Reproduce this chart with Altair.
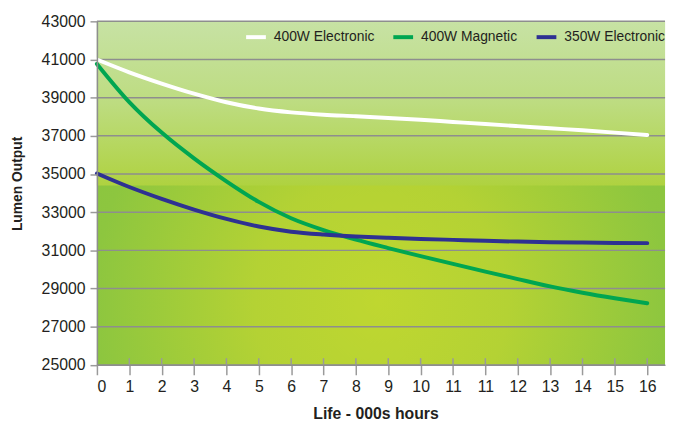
import altair as alt
import pandas as pd

# ---- data ----
x_index = list(range(18))
x_labels = ["0", "1", "2", "3", "4", "5", "6", "7", "8", "9", "10",
            "11", "11", "12", "13", "14", "15", "16"]
series_names = ["400W Electronic", "400W Magnetic", "350W Electronic"]
electronic_400 = [41000, 40330, 39740, 39210, 38760, 38430, 38230, 38110, 38030,
                  37940, 37840, 37730, 37620, 37510, 37400, 37290, 37170, 37040]
magnetic_400 = [40770, 38770, 37170, 35820, 34620, 33540, 32680, 32060, 31560,
                31120, 30700, 30290, 29890, 29495, 29110, 28780, 28490, 28230]
electronic_350 = [35030, 34320, 33700, 33140, 32650, 32250, 31980, 31830, 31730,
                  31660, 31600, 31550, 31500, 31460, 31430, 31410, 31390, 31380]
y_ticks = [25000, 27000, 29000, 31000, 33000, 35000, 37000, 39000, 41000, 43000]
series_colors = ["#ffffff", "#00a651", "#2e3192"]

rows = []
for name, vals in zip(series_names, [electronic_400, magnetic_400, electronic_350]):
    for i, v in zip(x_index, vals):
        rows.append({"x": i, "series": name, "value": v})
df = pd.DataFrame(rows)

x_max = 17.55
y_min, y_max = 25000, 43000
band_split = 34400

xscale = alt.Scale(domain=[0, x_max], nice=False, zero=False)
yscale = alt.Scale(domain=[y_min, y_max], nice=False, zero=False)

bg_all = pd.DataFrame({"x": [0], "x2": [x_max], "value": [y_min], "y2": [y_max]})
bg_top = pd.DataFrame({"x": [0], "x2": [x_max], "value": [band_split], "y2": [y_max]})
grid_df = pd.DataFrame({"value": y_ticks})
tick_df = pd.DataFrame({"x": x_index[1:], "value": [y_min] * 17, "y2": [25350] * 17})

label_expr = "[" + ",".join("'%s'" % s for s in x_labels) + "][datum.value]"

x_axis = alt.Axis(values=x_index, labelExpr=label_expr, title="Life - 000s hours",
                  tickSize=10, tickColor="#9a9a9a", tickWidth=1.5,
                  labelPadding=4, labelFontSize=16,
                  domain=True, domainColor="#8e8e8e", domainWidth=1.5,
                  grid=False, titleX=282, titleY=54, titleBaseline="alphabetic",
                  titleAlign="center", titleFontSize=16, zindex=1)
y_axis = alt.Axis(values=y_ticks, format="d", title="Lumen Output",
                  tickSize=7, tickColor="#9a9a9a", tickWidth=1.5,
                  labelPadding=5, labelFontSize=16,
                  domain=True, domainColor="#8e8e8e", domainWidth=1.5,
                  grid=False, titleX=-80, titleY=164, titleAlign="center",
                  titleBaseline="middle", titleAngle=270, titleFontSize=14, zindex=1)

radial = {
    "gradient": "radial",
    "x1": 0.5, "y1": 0.69, "r1": 0,
    "x2": 0.5, "y2": 0.69, "r2": 0.56,
    "stops": [
        {"offset": 0, "color": "#bfd730"},
        {"offset": 0.4, "color": "#b4d234"},
        {"offset": 0.9, "color": "#8dc63f"},
        {"offset": 1, "color": "#8bc53f"},
    ],
}
linear = {
    "gradient": "linear",
    "x1": 0, "y1": 0, "x2": 0, "y2": 1,
    "stops": [
        {"offset": 0, "color": "#c7e2a4"},
        {"offset": 0.5, "color": "#bddc80"},
        {"offset": 1, "color": "#afd240"},
    ],
}

X = alt.X("x:Q", scale=xscale, axis=x_axis)
Y = alt.Y("value:Q", scale=yscale, axis=y_axis)

layer_bg = alt.Chart(bg_all).mark_rect(fill=radial).encode(x=X, x2="x2:Q", y=Y, y2="y2:Q")
layer_top = alt.Chart(bg_top).mark_rect(fill=linear).encode(x=X, x2="x2:Q", y=Y, y2="y2:Q")
layer_grid = alt.Chart(grid_df).mark_rule(color="#8e8e8e", strokeWidth=1.5).encode(y=Y)
layer_ticks = alt.Chart(tick_df).mark_rule(color="#9a9a9a", strokeWidth=1.5).encode(
    x=X, y=Y, y2="y2:Q")

layer_lines = alt.Chart(df).mark_line(strokeWidth=4, interpolate="monotone", strokeCap="round").encode(
    x=X,
    y=Y,
    color=alt.Color("series:N",
                    scale=alt.Scale(domain=series_names, range=series_colors),
                    legend=alt.Legend(title=None, orient="none", legendX=149, legendY=4,
                                      direction="horizontal", columns=3,
                                      symbolType="stroke", symbolStrokeWidth=4, symbolSize=400,
                                      labelFontSize=14, labelOffset=6, columnPadding=11,
                                      padding=0, labelColor="#231f20",
                                      labelFont="Liberation Sans")),
)

chart = alt.layer(layer_bg, layer_top, layer_grid, layer_ticks, layer_lines).properties(
    width=575, height=347.7,
    padding={"left": 90, "top": 11, "right": 3, "bottom": 56},
    autosize=alt.AutoSizeParams(type="none"),
).configure_view(stroke=None).configure_axis(
    labelFont="Liberation Sans", titleFont="Liberation Sans",
    labelColor="#231f20", titleColor="#231f20", titleFontWeight="bold",
)

chart.save("out.html", embed_options={"renderer": "svg", "actions": False})
